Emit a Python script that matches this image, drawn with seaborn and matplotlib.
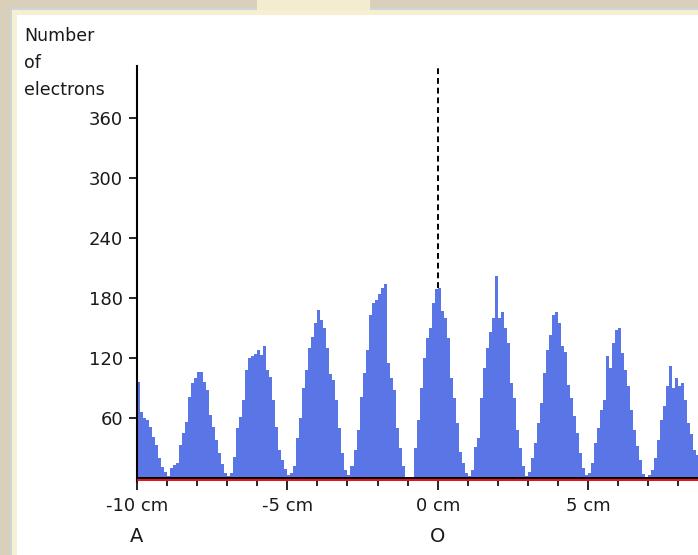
import numpy as np
import pandas as pd
import matplotlib
matplotlib.use("Agg")
import matplotlib.pyplot as plt
from matplotlib.patches import Rectangle
from matplotlib.transforms import blended_transform_factory
import seaborn as sns

# Electron counts per 0.1 cm bin, grouped by bright fringe (left to right)
fringe_m10 = [96, 66, 60, 58, 51, 41, 33, 20, 11, 6, 2]                      # -10.0 .. -9.0
fringe_m8 = [10, 13, 15, 33, 45, 56, 81, 95, 100, 106,
             106, 96, 88, 63, 51, 38, 25, 14, 5, 2]                          # -8.9 .. -7.0
fringe_m6 = [5, 21, 50, 61, 78, 108, 120, 122, 124, 128,
             123, 132, 108, 101, 78, 51, 28, 18, 9, 3]                       # -6.9 .. -5.0
fringe_m4 = [5, 12, 40, 60, 90, 108, 130, 141, 155, 168,
             158, 150, 130, 104, 98, 78, 50, 25, 8, 3]                       # -4.9 .. -3.0
fringe_m2 = [12, 28, 48, 81, 105, 128, 163, 175, 178, 184,
             190, 194, 115, 100, 88, 50, 30, 12, 0, 0, 0]                    # -2.9 .. -0.9
fringe_0 = [30, 58, 90, 120, 140, 150, 175, 189, 190, 167,
            160, 140, 100, 80, 55, 26, 15, 5, 2]                             # -0.8 .. 1.0
fringe_p2 = [8, 31, 40, 80, 110, 130, 146, 160, 202, 160,
             166, 150, 135, 95, 80, 48, 30, 12, 2, 6]                        # 1.1 .. 3.0
fringe_p4 = [20, 35, 55, 75, 105, 128, 143, 163, 166, 155,
             132, 126, 93, 80, 62, 45, 25, 10, 3, 5]                         # 3.1 .. 5.0
fringe_p6 = [15, 35, 50, 68, 78, 122, 110, 135, 148, 150,
             125, 108, 92, 68, 48, 32, 18, 4, 0, 3]                          # 5.1 .. 7.0
fringe_p8 = [8, 20, 38, 58, 72, 92, 112, 90, 100, 92,
             95, 78, 55, 44, 28, 23]                                         # 7.1 .. 8.6

counts = (fringe_m10 + fringe_m8 + fringe_m6 + fringe_m4 + fringe_m2
          + fringe_0 + fringe_p2 + fringe_p4 + fringe_p6 + fringe_p8)

bin_width = 0.1
bin_left = np.round(np.arange(-100, -100 + len(counts)) * bin_width, 1)
bin_range = (float(bin_left[0]), float(round(bin_left[-1] + bin_width, 1)))

x_ticks = [-10, -5, 0, 5]
x_ticklabels = ["-10 cm", "-5 cm", "0 cm", "5 cm"]
y_ticks = [60, 120, 180, 240, 300, 360]
point_labels = [(-10, "A"), (0, "O")]
y_title = ["Number", "of", "electrons"]

df = pd.DataFrame({"position": bin_left + bin_width / 2, "count": counts})

W, H = 698, 555
fig = plt.figure(figsize=(W / 100, H / 100), dpi=100)
fig.patch.set_facecolor("#d9d0bb")

def px_rect(x0, y0, x1, y1, color):
    # rectangle given in pixel coordinates measured from the top-left corner
    fig.patches.append(Rectangle((x0 / W, 1 - y1 / H), (x1 - x0) / W, (y1 - y0) / H,
                                 transform=fig.transFigure, facecolor=color,
                                 edgecolor="none", zorder=-5))

# window frame
px_rect(10, 8, W, H, "#cfd3dc")
px_rect(12, 10, W, H, "#f6efd2")
px_rect(257, 0, 370, 10, "#f3ecd0")
px_rect(17, 15, W, H, "white")

ax = fig.add_axes([137 / W, (H - 481) / H, (W - 137) / W, (481 - 66) / H])
ax.set_facecolor("none")

sns.histplot(data=df, x="position", weights="count",
             binwidth=bin_width, binrange=bin_range,
             element="step", fill=True, color="#5a75e6", alpha=1.0,
             linewidth=0, ax=ax, zorder=2)

x_max = -10 + (W - 137) / 30.07
ax.set_xlim(-10, x_max)
ax.set_ylim(-3, 412)

# baseline: black axis over a red strip
ax.axhline(-2.2, color="#e8141c", lw=1.6, zorder=3)
ax.axhline(0, color="black", lw=1.4, zorder=4)

# dashed marker at the centre
centre_count = counts[int(np.where(bin_left == 0.0)[0][0])]
ax.plot([0, 0], [centre_count, 412], color="black", lw=1.4,
        dashes=(3, 2), zorder=5)

for side in ["top", "right", "bottom"]:
    ax.spines[side].set_visible(False)
ax.spines["left"].set_linewidth(1.5)
ax.spines["left"].set_color("black")

ax.set_xticks(x_ticks)
ax.set_xticklabels(x_ticklabels)
ax.set_xticks(np.arange(-10, 9), minor=True)
ax.set_yticks(y_ticks)
ax.set_yticklabels([str(v) for v in y_ticks])
ax.tick_params(axis="x", which="major", length=6.5, width=1.2, pad=5.0,
               labelsize=13, colors="black", labelcolor="#1a1a1a")
ax.tick_params(axis="x", which="minor", length=3.5, width=1.2, colors="black")
ax.tick_params(axis="y", which="major", length=6.0, width=1.2, pad=4.0,
               labelsize=13, colors="black", labelcolor="#1a1a1a")
ax.set_xlabel("")
ax.set_ylabel("")

trans = blended_transform_factory(ax.transData, fig.transFigure)
for xv, s in point_labels:
    ax.text(xv, (H - 542) / H, s, transform=trans, ha="center", va="baseline",
            fontsize=14, color="#1a1a1a", clip_on=False)

for i, line in enumerate(y_title):
    fig.text(24 / W, (H - (41 + 27 * i)) / H, line, ha="left", va="baseline",
             fontsize=12.5, color="#1a1a1a")

fig.savefig("out.png", dpi=100, facecolor=fig.get_facecolor())
